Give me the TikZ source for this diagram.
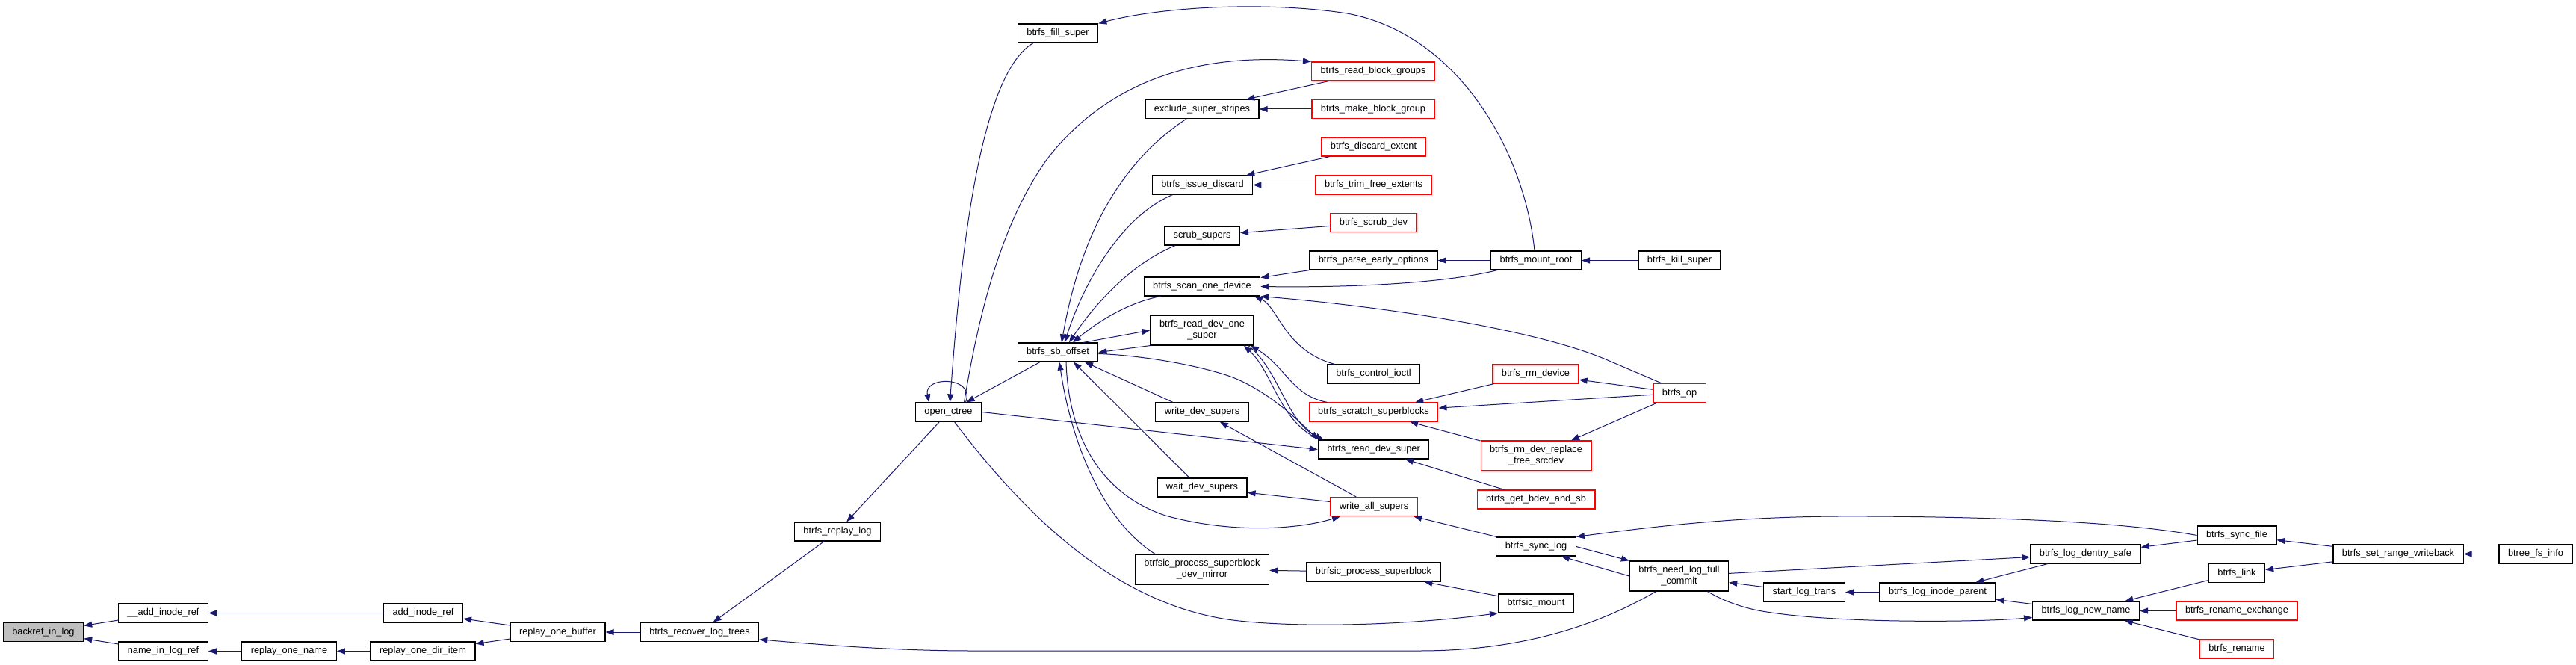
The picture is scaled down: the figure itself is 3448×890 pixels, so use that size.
\documentclass[tikz,border=0pt]{standalone}
\usepackage{fontspec}
\setmainfont{Liberation Sans}
\usepackage{tikz}
\usetikzlibrary{shapes, arrows, arrows.meta, positioning}
\definecolor{edgeblue}{HTML}{191970}
\definecolor{rootgray}{HTML}{BFBFBF}

\begin{document}
\begin{tikzpicture}[x=1pt, y=-1pt, font=\fontsize{12.8}{15}\selectfont]
% Node styles
\tikzstyle{func} = [rectangle, minimum height=25pt, inner xsep=12pt, inner ysep=2pt, text centered, draw=black, line width=1.2pt, fill=white]
\tikzstyle{trunc} = [func, draw=red]
\tikzstyle{root} = [func, fill=rootgray]
\tikzstyle{tall} = [minimum height=40pt, align=center]
\tikzstyle{arrow} = [{Triangle[length=11pt, width=8pt]}-, draw=edgeblue, line width=1pt]

\useasboundingbox (0,0) rectangle (3448,890);

% Nodes
\node [root] (backref) at (58,846) {backref\_in\_log};
\node [func] (addinoderefx) at (218.5,820.5) {\_\_add\_inode\_ref};
\node [func] (nameinlogref) at (218.5,871.5) {name\_in\_log\_ref};
\node [func] (replayonename) at (387,871.5) {replay\_one\_name};
\node [func] (addinoderef) at (566.5,820.5) {add\_inode\_ref};
\node [func] (replayonediritem) at (566,871.5) {replay\_one\_dir\_item};
\node [func] (replayonebuffer) at (746.5,846) {replay\_one\_buffer};
\node [func] (recoverlogtrees) at (936.5,846) {btrfs\_recover\_log\_trees};
\node [func] (replaylog) at (1121,711.5) {btrfs\_replay\_log};
\node [func] (openctree) at (1269.5,551.5) {open\_ctree};
\node [func] (fillsuper) at (1416,44.5) {btrfs\_fill\_super};
\node [func] (sboffset) at (1416,471.5) {btrfs\_sb\_offset};
\node [func] (excludestripes) at (1609,146) {exclude\_super\_stripes};
\node [func] (issuediscard) at (1609.5,247.5) {btrfs\_issue\_discard};
\node [func] (scrubsupers) at (1609,315.5) {scrub\_supers};
\node [func] (scanonedevice) at (1609,383.5) {btrfs\_scan\_one\_device};
\node [func, tall] (readdevonesuper) at (1609,442) {btrfs\_read\_dev\_one\\\_super};
\node [func] (writedevsupers) at (1609,551.5) {write\_dev\_supers};
\node [func] (waitdevsupers) at (1609,652.5) {wait\_dev\_supers};
\node [func, tall] (devmirror) at (1609,762) {btrfsic\_process\_superblock\\\_dev\_mirror};
\node [trunc] (readblockgroups) at (1838,95.5) {btrfs\_read\_block\_groups};
\node [trunc] (makeblockgroup) at (1838,146) {btrfs\_make\_block\_group};
\node [trunc] (discardextent) at (1838.5,196.5) {btrfs\_discard\_extent};
\node [trunc] (trimfreeextents) at (1838.5,247.5) {btrfs\_trim\_free\_extents};
\node [trunc] (scrubdev) at (1838.5,298) {btrfs\_scrub\_dev};
\node [func] (parseearly) at (1838.5,348.5) {btrfs\_parse\_early\_options};
\node [func] (controlioctl) at (1838.5,500.5) {btrfs\_control\_ioctl};
\node [trunc] (scratchsb) at (1838.5,551.5) {btrfs\_scratch\_superblocks};
\node [func] (readdevsuper) at (1838.5,601.5) {btrfs\_read\_dev\_super};
\node [trunc] (writeallsupers) at (1839,678) {write\_all\_supers};
\node [func] (processsb) at (1838.5,765.5) {btrfsic\_process\_superblock};
\node [func] (mountroot) at (2056,348.5) {btrfs\_mount\_root};
\node [trunc] (rmdevice) at (2055.5,500.5) {btrfs\_rm\_device};
\node [trunc, tall] (rmdevreplace) at (2056,610) {btrfs\_rm\_dev\_replace\\\_free\_srcdev};
\node [trunc] (getbdev) at (2056,668.5) {btrfs\_get\_bdev\_and\_sb};
\node [func] (synclog) at (2056,731.5) {btrfs\_sync\_log};
\node [func] (btrfsicmount) at (2056,807.5) {btrfsic\_mount};
\node [func] (killsuper) at (2248,348.5) {btrfs\_kill\_super};
\node [trunc] (btrfsop) at (2248,526) {btrfs\_op};
\node [func, tall] (needlogfull) at (2247.5,771) {btrfs\_need\_log\_full\\\_commit};
\node [func] (startlogtrans) at (2415,792.5) {start\_log\_trans};
\node [func] (loginodeparent) at (2593.5,792.5) {btrfs\_log\_inode\_parent};
\node [func] (logdentrysafe) at (2791.5,741.5) {btrfs\_log\_dentry\_safe};
\node [func] (lognewname) at (2792,817.5) {btrfs\_log\_new\_name};
\node [func] (syncfile) at (2994,716.5) {btrfs\_sync\_file};
\node [func] (link) at (2994,767) {btrfs\_link};
\node [trunc] (renameexchange) at (2994,817.5) {btrfs\_rename\_exchange};
\node [trunc] (rename) at (2994,868.5) {btrfs\_rename};
\node [func] (setrangewb) at (3210,741.5) {btrfs\_set\_range\_writeback};
\node [func] (btreefsinfo) at (3394,741.5) {btree\_fs\_info};

% Arrows
\draw [arrow] (backref) -- (addinoderefx);
\draw [arrow] (backref) -- (nameinlogref);
\draw [arrow] (addinoderefx) -- (addinoderef);
\draw [arrow] (nameinlogref) -- (replayonename);
\draw [arrow] (replayonename) -- (replayonediritem);
\draw [arrow] (addinoderef) -- (replayonebuffer);
\draw [arrow] (replayonediritem) -- (replayonebuffer);
\draw [arrow] (replayonebuffer) -- (recoverlogtrees);
\draw [arrow] (recoverlogtrees) -- (replaylog);
\draw [arrow] (recoverlogtrees.-7) .. controls (1100,863) and (1200,871) .. (1300,871) -- (1900,871) .. controls (2050,871) and (2150,830) .. ([xshift=-31pt]needlogfull.south);
\draw [arrow] (replaylog) -- (openctree);
\draw [arrow] ([xshift=-26pt]openctree.north) .. controls (1236,503) and (1306,503) .. ([xshift=23pt]openctree.north);
\draw [arrow] ([xshift=2pt]openctree.north) .. controls (1285,350) and (1310,100) .. ([xshift=-33pt]fillsuper.south);
\draw [arrow] (openctree) -- (sboffset);
\draw [arrow] (readblockgroups.north west) .. controls (1600,70) and (1480,110) .. (1400,215) .. controls (1340,300) and (1310,420) .. ([xshift=21pt]openctree.north);
\draw [arrow] (fillsuper.north east) .. controls (1560,8) and (1700,2) .. (1803,18) .. controls (1950,45) and (2040,200) .. ([xshift=-2pt]mountroot.north);
\draw [arrow] (readdevsuper.west) -- (openctree.east);
\draw [arrow] (btrfsicmount.south west) .. controls (1900,835) and (1750,842) .. (1650,830) .. controls (1500,810) and (1380,700) .. ([xshift=8pt]openctree.south);
\draw [arrow] ([xshift=5pt]sboffset.north) .. controls (1440,350) and (1480,230) .. ([xshift=-21pt]excludestripes.south);
\draw [arrow] ([xshift=9pt]sboffset.north) .. controls (1450,380) and (1500,290) .. ([xshift=-40pt]issuediscard.south);
\draw [arrow] ([xshift=15pt]sboffset.north) .. controls (1470,400) and (1520,350) .. ([xshift=-36pt]scrubsupers.south);
\draw [arrow] ([xshift=20pt]sboffset.north) .. controls (1470,430) and (1510,405) .. ([xshift=-56pt]scanonedevice.south);
\draw [arrow] (readdevonesuper.west) -- ([xshift=34pt]sboffset.north);
\draw [arrow] (sboffset.east) -- (readdevonesuper.south west);
\draw [arrow] ([xshift=1pt]readdevsuper.north west) .. controls (1740,565) and (1700,525) .. (1650,505) .. controls (1600,487) and (1520,475) .. ([yshift=-2pt]sboffset.east);
\draw [arrow] ([xshift=36pt]sboffset.south) -- ([xshift=-39pt]writedevsupers.north);
\draw [arrow] ([xshift=21pt]sboffset.south) -- ([xshift=-17pt]waitdevsupers.north);
\draw [arrow] ([xshift=2pt]sboffset.south) .. controls (1435,600) and (1480,700) .. ([xshift=-63pt]devmirror.north);
\draw [arrow] ([xshift=-45pt]writeallsupers.south) .. controls (1740,708) and (1650,715) .. (1560,690) .. controls (1470,660) and (1430,580) .. ([xshift=11pt]sboffset.south);
\draw [arrow] (excludestripes) -- (readblockgroups);
\draw [arrow] (excludestripes) -- (makeblockgroup);
\draw [arrow] (issuediscard) -- (discardextent);
\draw [arrow] (issuediscard) -- (trimfreeextents);
\draw [arrow] (scrubsupers) -- (scrubdev);
\draw [arrow] (scanonedevice) -- (parseearly);
\draw [arrow] (scanonedevice.east) .. controls (1800,385) and (1930,380) .. ([xshift=-52pt]mountroot.south);
\draw [arrow] (scanonedevice.south east) .. controls (1850,410) and (2050,440) .. (2147,480) -- ([xshift=-24pt]btrfsop.north);
\draw [arrow] ([xshift=70pt]scanonedevice.south) .. controls (1710,410) and (1720,470) .. ([xshift=-52pt]controlioctl.north);
\draw [arrow] ([xshift=65pt]readdevonesuper.south) .. controls (1720,490) and (1730,530) .. ([xshift=-62pt]scratchsb.north);
\draw [arrow] ([xshift=56pt]readdevonesuper.south) .. controls (1705,500) and (1712,565) .. ([xshift=3pt]readdevsuper.north west);
\draw [arrow] ([xshift=8pt]readdevsuper.north west) .. controls (1722,565) and (1712,495) .. ([xshift=62pt]readdevonesuper.south);
\draw [arrow] (writedevsupers) -- (writeallsupers);
\draw [arrow] (waitdevsupers) -- (writeallsupers);
\draw [arrow] (devmirror) -- (processsb);
\draw [arrow] (parseearly) -- (mountroot);
\draw [arrow] (mountroot) -- (killsuper);
\draw [arrow] (scratchsb) -- (rmdevice);
\draw [arrow] (scratchsb) -- (btrfsop);
\draw [arrow] (scratchsb) -- (rmdevreplace);
\draw [arrow] (rmdevice) -- (btrfsop);
\draw [arrow] (rmdevreplace) -- (btrfsop);
\draw [arrow] (readdevsuper) -- (getbdev);
\draw [arrow] (writeallsupers) -- (synclog);
\draw [arrow] (processsb) -- (btrfsicmount);
\draw [arrow] ([xshift=-20pt]synclog.south east) -- (needlogfull.west);
\draw [arrow] (needlogfull.north west) -- (synclog.east);
\draw [arrow] (synclog.north east) .. controls (2250,700) and (2350,690) .. (2500,691) .. controls (2700,692) and (2850,700) .. (syncfile.west);
\draw [arrow] (needlogfull) -- (startlogtrans);
\draw [arrow] (startlogtrans) -- (loginodeparent);
\draw [arrow] (loginodeparent) -- (logdentrysafe);
\draw [arrow] (loginodeparent) -- (lognewname);
\draw [arrow] (logdentrysafe) -- (needlogfull);
\draw [arrow] (lognewname.187) .. controls (2650,833) and (2450,835) .. (2353,817) .. controls (2320,810) and (2300,800) .. ([xshift=38pt]needlogfull.south);
\draw [arrow] (logdentrysafe) -- (syncfile);
\draw [arrow] (lognewname) -- (link);
\draw [arrow] (lognewname) -- (renameexchange);
\draw [arrow] (lognewname) -- (rename);
\draw [arrow] (syncfile) -- (setrangewb);
\draw [arrow] (link) -- (setrangewb);
\draw [arrow] (setrangewb) -- (btreefsinfo);
\end{tikzpicture}
\end{document}
